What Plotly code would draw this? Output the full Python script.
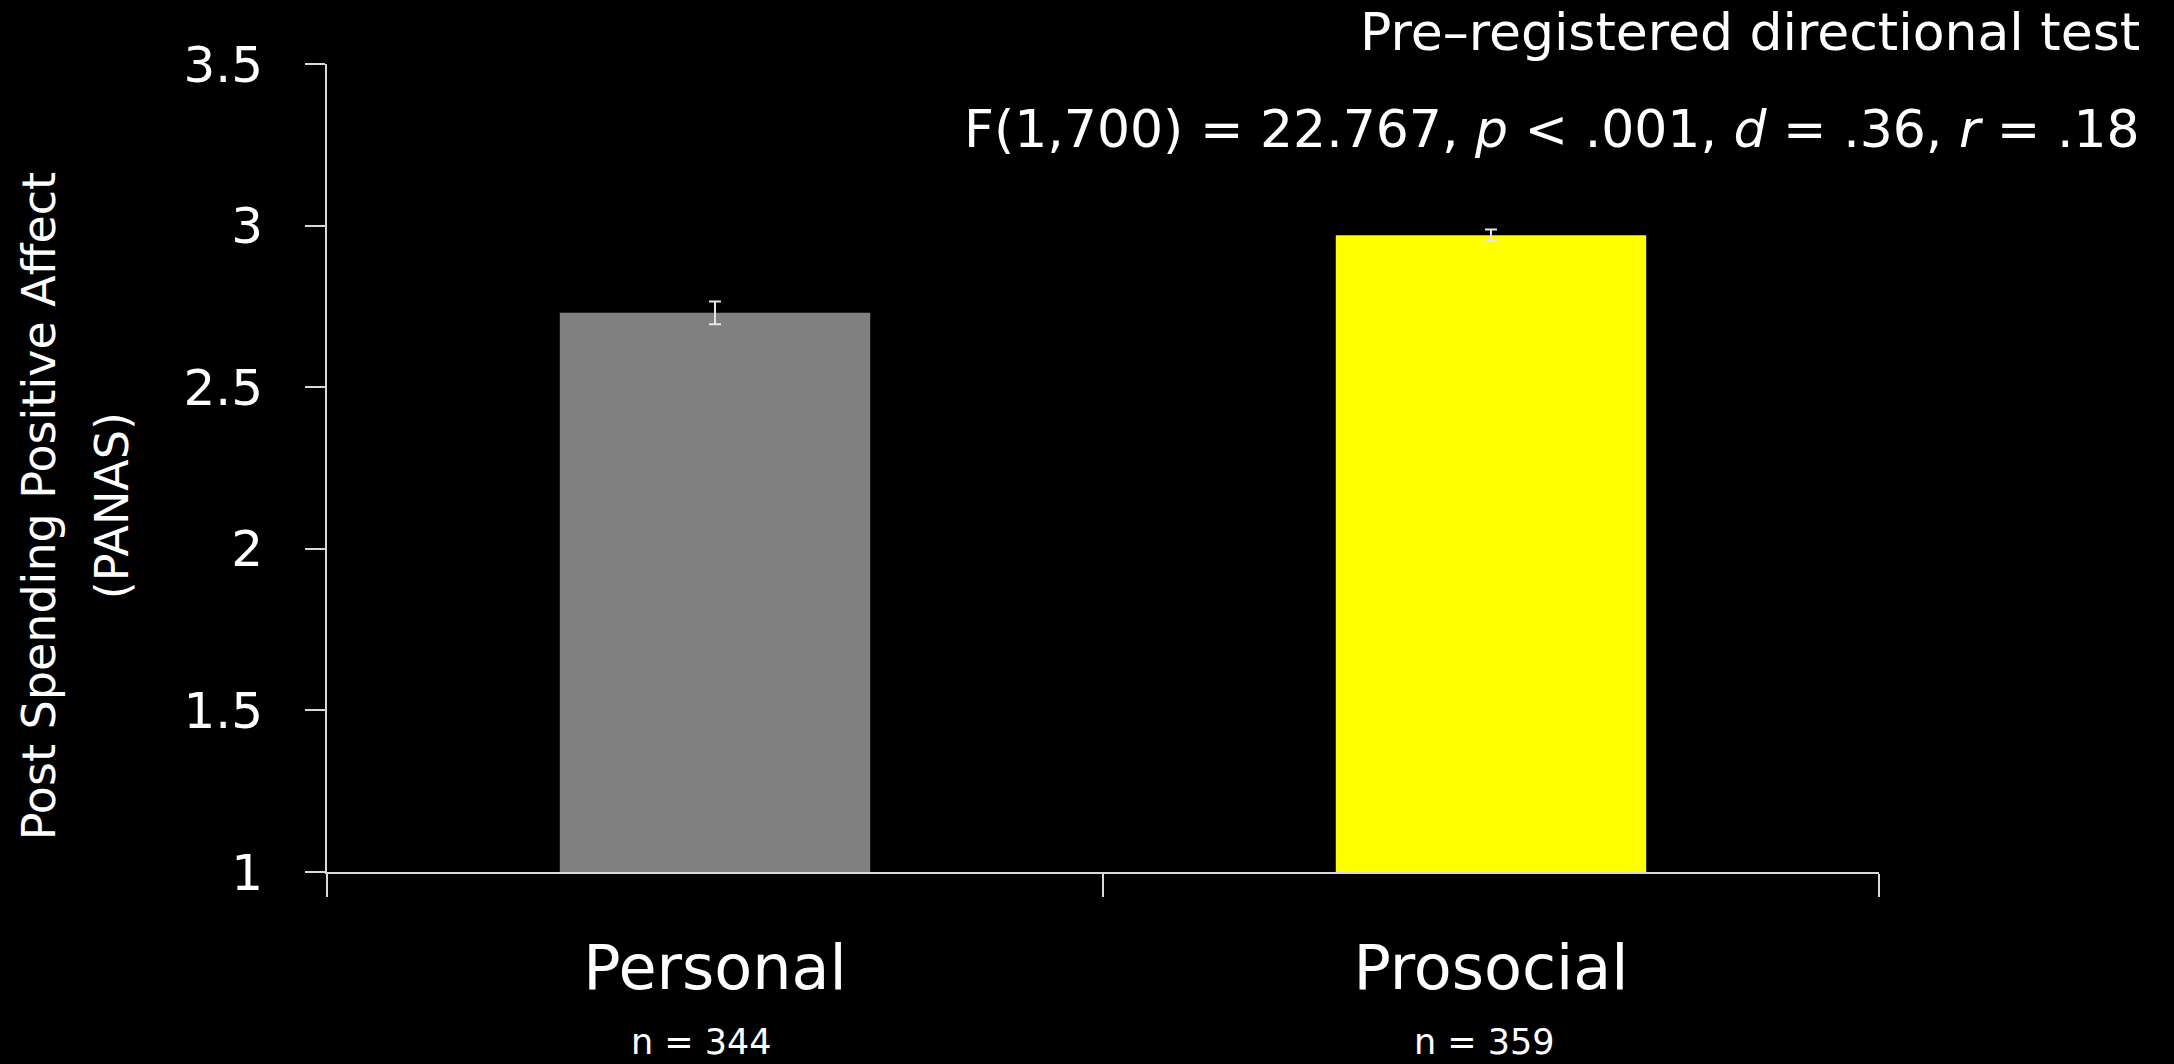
import plotly.graph_objects as go

# Group means with standard errors
categories = ["Personal", "Prosocial"]
means = [2.73, 2.97]
errors = [0.035, 0.018]
sample_sizes = ["n = 344", "n = 359"]
bar_colors = ["#808080", "#ffff00"]

y_ticks = [1, 1.5, 2, 2.5, 3, 3.5]
y_ticklabels = ["1", "1.5", "2", "2.5", "3", "3.5"]

FONT = "DejaVu Sans"
LINE = "#d9d9d9"

fig = go.Figure(
    go.Bar(
        x=categories,
        y=means,
        marker=dict(color=bar_colors, line=dict(width=0)),
        error_y=dict(type="data", array=errors, visible=True,
                     color="#e6e6e6", thickness=2, width=6),
        width=0.4,
    )
)

# Sample-size captions under each category label
for cat, n_text, dx in zip(categories, sample_sizes, [-14, -7]):
    fig.add_annotation(x=cat, y=0, xref="x", yref="paper", text=n_text,
                       showarrow=False, xanchor="center", yanchor="top",
                       yshift=-148, xshift=dx,
                       font=dict(family=FONT, size=35, color="white"))

# Test statistics in the top-right corner
fig.add_annotation(x=1.1695, y=1.040, xref="paper", yref="paper",
                   text="Pre\u2013registered directional test",
                   showarrow=False, xanchor="right", yanchor="middle",
                   font=dict(family=FONT, size=52, color="white"))
fig.add_annotation(x=1.1695, y=0.920, xref="paper", yref="paper",
                   text="F(1,700) = 22.767, <i>p</i> < .001, <i>d</i> = .36, <i>r</i> = .18",
                   showarrow=False, xanchor="right", yanchor="middle",
                   font=dict(family=FONT, size=52, color="white"))

# Two-line rotated y-axis title
fig.add_annotation(x=-0.1855, y=0.4527, xref="paper", yref="paper",
                   text="Post Spending Positive Affect", textangle=-90,
                   showarrow=False, xanchor="center", yanchor="middle",
                   font=dict(family=FONT, size=46, color="white"))
fig.add_annotation(x=-0.1385, y=0.4527, xref="paper", yref="paper",
                   text="(PANAS)", textangle=-90,
                   showarrow=False, xanchor="center", yanchor="middle",
                   font=dict(family=FONT, size=46, color="white"))

fig.update_layout(
    width=2174, height=1064,
    margin=dict(l=327, r=295, t=64, b=192, pad=0),
    paper_bgcolor="black", plot_bgcolor="black",
    showlegend=False,
    font=dict(family=FONT, color="white"),
    xaxis=dict(
        type="category", showgrid=False, zeroline=False,
        showline=True, linecolor=LINE, linewidth=2,
        ticks="outside", tickson="boundaries", ticklen=23,
        tickwidth=2, tickcolor=LINE,
        tickfont=dict(family=FONT, size=62, color="white"),
        ticklabelstandoff=41,
    ),
    yaxis=dict(
        range=[1, 3.5], tickvals=y_ticks, ticktext=y_ticklabels,
        showgrid=False, zeroline=False,
        showline=True, linecolor=LINE, linewidth=2,
        ticks="outside", ticklen=20, tickwidth=2, tickcolor=LINE,
        tickfont=dict(family=FONT, size=50, color="white"),
        ticklabelstandoff=32,
    ),
)

fig.write_html("out.html")
